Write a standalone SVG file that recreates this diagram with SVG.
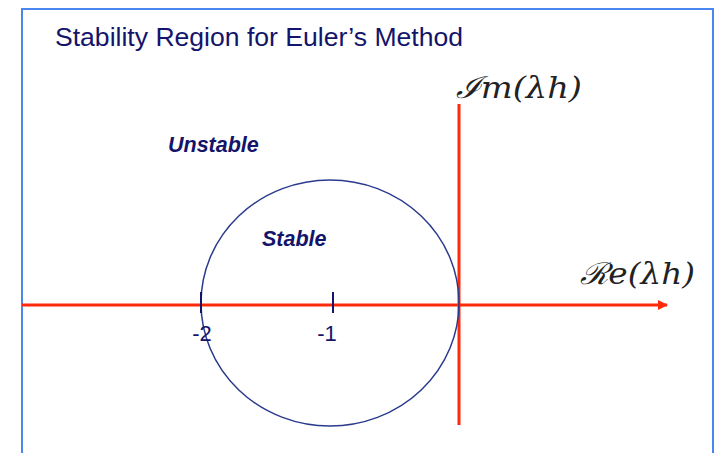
<svg xmlns="http://www.w3.org/2000/svg" width="717" height="453" viewBox="0 0 717 453">
<defs>
<style>
.title{font-family:"Liberation Sans",Arial,sans-serif;font-size:26px;fill:#14146a}
.region{font-family:"Liberation Sans",Arial,sans-serif;font-size:21.5px;font-weight:bold;font-style:italic;fill:#14146a}
.tick{font-family:"Liberation Sans",Arial,sans-serif;font-size:22px;fill:#14146a}
.math{font-family:"DejaVu Serif","Liberation Serif",serif;font-style:italic;font-size:30px;fill:#222}
.axis{stroke:#ff2a0a;stroke-width:3;fill:none}
</style>
<marker id="arr" markerWidth="10" markerHeight="10" refX="9" refY="5" orient="auto" markerUnits="userSpaceOnUse" viewBox="0 0 10 10">
<path d="M0,0 L10,5 L0,10 z" fill="#ff2a0a"/>
</marker>
</defs>
<rect x="0" y="0" width="717" height="453" fill="#fff"/>
<rect x="22" y="9" width="691" height="460" fill="none" stroke="#4a86f0" stroke-width="2"/>
<text class="title" x="55" y="46" textLength="408" lengthAdjust="spacingAndGlyphs">Stability Region for Euler’s Method</text>
<g id="connectors">
<line class="axis" x1="22" y1="305" x2="667" y2="305" marker-end="url(#arr)"/>
<line class="axis" x1="459" y1="104" x2="459" y2="425"/>
</g>
<g id="circle">
<ellipse cx="330" cy="303" rx="129" ry="123" fill="none" stroke="#2a3a8c" stroke-width="1.5"/>
</g>
<g id="ticks">
<line x1="201" y1="292" x2="201" y2="313" stroke="#14146a" stroke-width="2"/>
<line x1="333" y1="292" x2="333" y2="313" stroke="#14146a" stroke-width="2"/>
<text class="tick" x="202" y="341" text-anchor="middle">-2</text>
<text class="tick" x="327" y="341" text-anchor="middle">-1</text>
</g>
<g id="unstable"><text class="region" x="168" y="152">Unstable</text></g>
<g id="stable"><text class="region" x="262" y="246">Stable</text></g>
<g id="im-label"><text class="math" x="456" y="98" textLength="126" lengthAdjust="spacingAndGlyphs">ℐm(λh)</text></g>
<g id="re-label"><text class="math" x="580" y="284" textLength="115" lengthAdjust="spacingAndGlyphs">ℛe(λh)</text></g>
</svg>
